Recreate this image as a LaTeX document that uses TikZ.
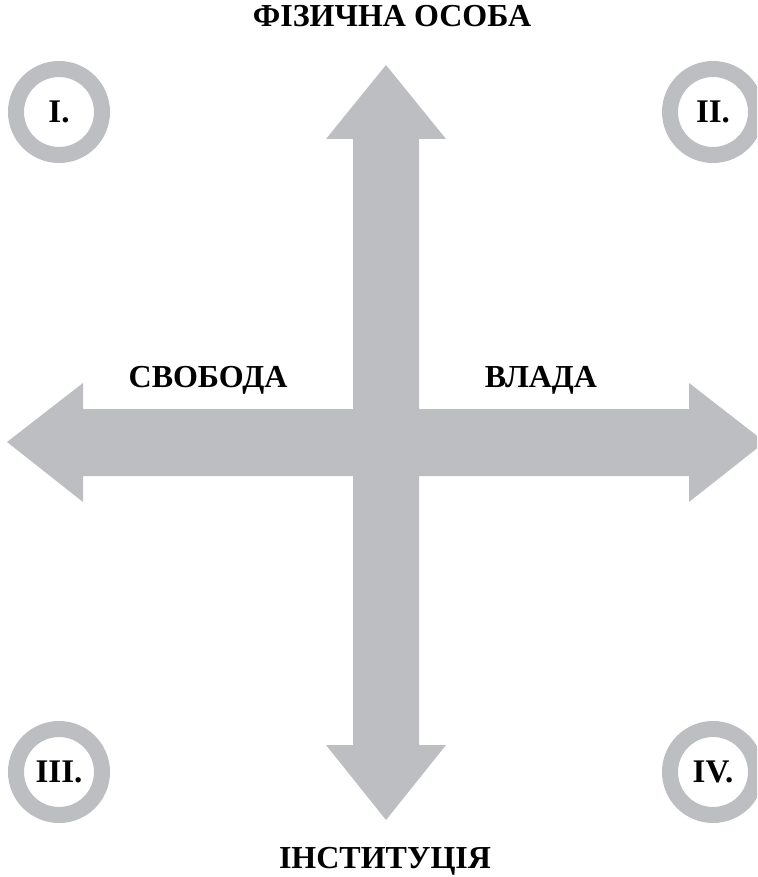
\documentclass[tikz,border=0pt]{standalone}
\usepackage{fontspec}
\setmainfont{Liberation Serif}
\definecolor{axisgray}{RGB}{188,190,193}
\tikzset{
	axislabel/.style={font=\fontsize{32}{34}\selectfont\bfseries, anchor=base, inner sep=0pt},
	quadrant/.style={circle, draw=axisgray, line width=16pt, minimum size=86pt, inner sep=0pt,
		font=\fontsize{33}{35}\selectfont\bfseries}
}
\begin{document}
\begin{tikzpicture}[x=1pt, y=-1pt]
	\useasboundingbox (0,0) rectangle (757,877);
	\clip (0,0) rectangle (757,877);
	% axes
	\fill[axisgray] (386,65) -- (446,139) -- (419,139) -- (419,745) -- (446,745) -- (386,820)
		-- (326,745) -- (353,745) -- (353,139) -- (326,139) -- cycle;
	\fill[axisgray] (7,442) -- (83,383) -- (83,409) -- (689,409) -- (689,383) -- (765,442)
		-- (689,502) -- (689,476) -- (83,476) -- (83,502) -- cycle;
	% labels
	\node[axislabel] (person) at (392,27) {ФІЗИЧНА ОСОБА};
	\node[axislabel] (institution) at (385,868) {ІНСТИТУЦІЯ};
	\node[axislabel] (freedom) at (208,387) {СВОБОДА};
	\node[axislabel] (power) at (541,387) {ВЛАДА};
	% quadrants
	\node[quadrant] (q1) at (59,112) {I.};
	\node[quadrant] (q2) at (713,112) {II.};
	\node[quadrant] (q3) at (59,772) {III.};
	\node[quadrant] (q4) at (713,772) {IV.};
\end{tikzpicture}
\end{document}
